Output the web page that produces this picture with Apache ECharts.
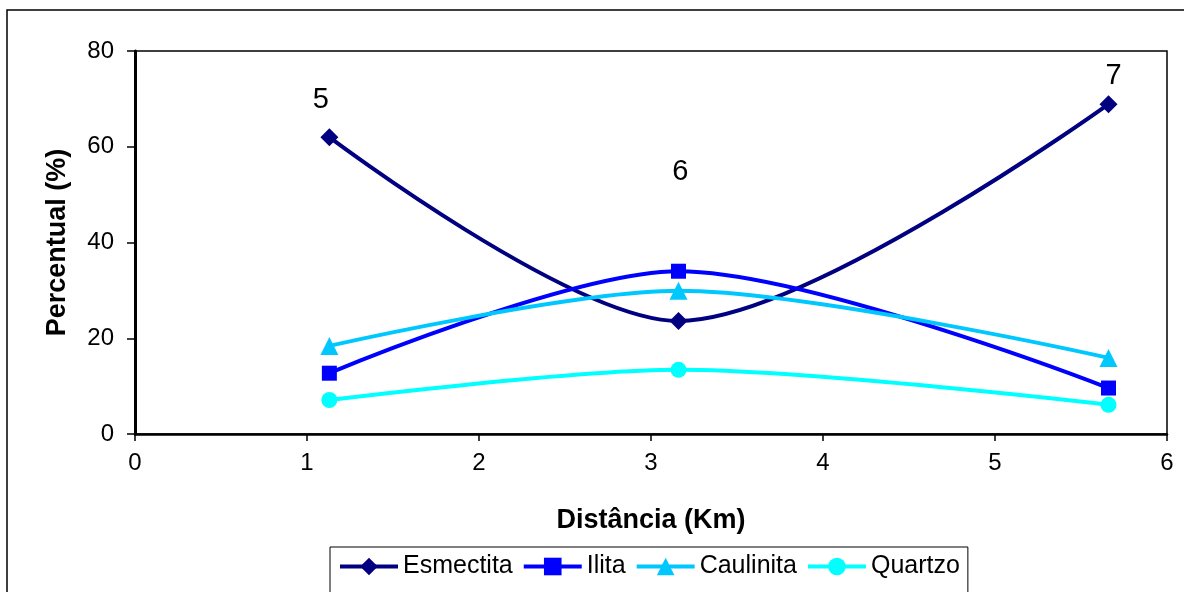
<!DOCTYPE html>
<html>
<head>
<meta charset="utf-8">
<script src="https://cdn.jsdelivr.net/npm/echarts@6/dist/echarts.min.js"></script>
<style>
    html, body { margin: 0; padding: 0; background: #fff; }
    #chart { width: 1184px; height: 592px; }
</style>
</head>
<body>
<div id="chart"></div>
<script>
// distancias (Km) dos pontos 5, 6 e 7
var distancias = [1.13, 3.16, 5.66];
var esmectita = [62.0, 23.6, 68.9];
var ilita = [12.7, 34.0, 9.6];
var caulinita = [18.4, 29.9, 15.9];
var quartzo = [7.1, 13.4, 6.1];
// rotulos dos pontos de amostragem
var pontos = ['5', '6', '7'];
var pontosX = [1.08, 3.17, 5.69];
var pontosY = [69.8, 54.7, 74.8];

var fonte = 'Liberation Sans, Arial, sans-serif';

function pares(ys) {
    var d = [];
    for (var i = 0; i < distancias.length; i++) d.push([distancias[i], ys[i]]);
    return d;
}
var rotulos = [];
for (var i = 0; i < pontos.length; i++) rotulos.push([pontosX[i], pontosY[i], pontos[i]]);

var chart = echarts.init(document.getElementById('chart'));
var option = {
    backgroundColor: '#fff',
    animation: false,
    textStyle: { fontFamily: fonte },
    graphic: [{
        type: 'rect',
        shape: { x: 7, y: 10, width: 1200, height: 600 },
        style: { fill: 'none', stroke: '#000', lineWidth: 1.5 },
        silent: true
    }],
    grid: {
        left: 135, right: 17, top: 51, bottom: 158,
        show: true, borderColor: '#000', borderWidth: 1.5
    },
    legend: {
        data: ['Esmectita', 'Ilita', 'Caulinita', 'Quartzo'],
        left: 330, top: 547,
        borderColor: '#000', borderWidth: 1,
        padding: [7, 8, 20, 8],
        itemWidth: 58, itemHeight: 22, itemGap: 9,
        lineStyle: { width: 4 },
        textStyle: { fontSize: 25, color: '#000', fontFamily: fonte }
    },
    xAxis: {
        type: 'value',
        min: 0, max: 6, interval: 1,
        name: 'Distância (Km)',
        nameLocation: 'middle',
        nameGap: 73,
        nameTextStyle: { fontSize: 27, fontWeight: 'bold', color: '#000' },
        axisLine: { lineStyle: { color: '#000', width: 2.5 } },
        axisTick: { show: true, length: 7, lineStyle: { color: '#000', width: 1.5 } },
        axisLabel: { fontSize: 24, color: '#000', margin: 17 },
        splitLine: { show: false }
    },
    yAxis: {
        type: 'value',
        min: 0, max: 80, interval: 20,
        name: 'Percentual (%)',
        nameLocation: 'middle',
        nameGap: 64,
        nameTextStyle: { fontSize: 27, fontWeight: 'bold', color: '#000' },
        axisLine: { show: true, lineStyle: { color: '#000', width: 3 } },
        axisTick: { show: true, length: 8, lineStyle: { color: '#000', width: 1.5 } },
        axisLabel: { fontSize: 24, color: '#000', margin: 21 },
        splitLine: { show: false }
    },
    series: [
        {
            name: 'Esmectita', type: 'line', smooth: 0.3,
            data: pares(esmectita),
            symbol: 'diamond', symbolSize: 18,
            lineStyle: { color: '#000080', width: 4 },
            itemStyle: { color: '#000080' }
        },
        {
            name: 'Ilita', type: 'line', smooth: 0.3,
            data: pares(ilita),
            symbol: 'rect', symbolSize: 15,
            lineStyle: { color: '#0000ff', width: 4 },
            itemStyle: { color: '#0000ff' }
        },
        {
            name: 'Caulinita', type: 'line', smooth: 0.3,
            data: pares(caulinita),
            symbol: 'triangle', symbolSize: 18,
            lineStyle: { color: '#00c8ff', width: 4 },
            itemStyle: { color: '#00c8ff' }
        },
        {
            name: 'Quartzo', type: 'line', smooth: 0.3,
            data: pares(quartzo),
            symbol: 'circle', symbolSize: 16,
            lineStyle: { color: '#00ffff', width: 4 },
            itemStyle: { color: '#00ffff' }
        },
        {
            name: 'pontos', type: 'scatter',
            data: rotulos,
            symbolSize: 1,
            itemStyle: { color: 'rgba(0,0,0,0)' },
            z: 10,
            label: {
                show: true, position: 'inside',
                formatter: function (p) { return p.value[2]; },
                fontSize: 29, color: '#000', opacity: 1,
                textBorderWidth: 0, fontFamily: fonte
            }
        }
    ]
};
chart.setOption(option);
</script>
</body>
</html>
